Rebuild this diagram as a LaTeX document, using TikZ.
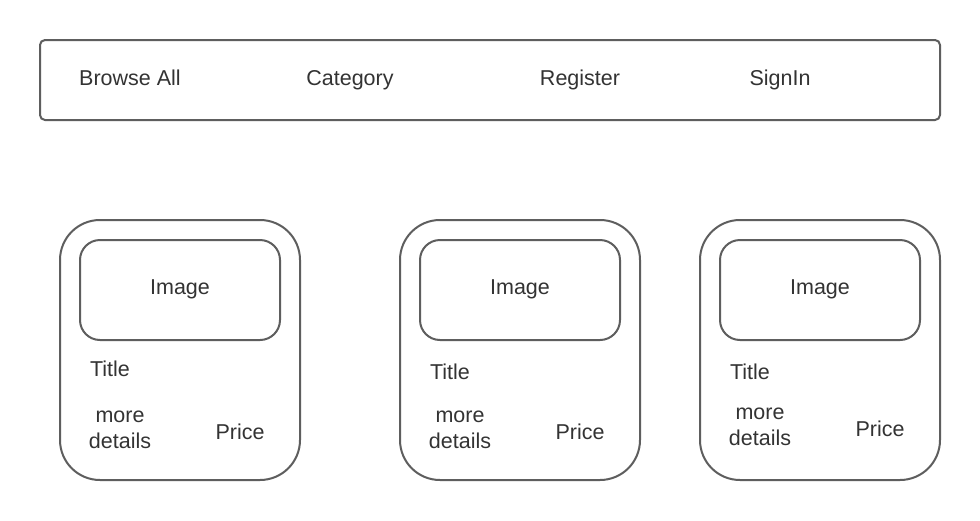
\documentclass[tikz,border=0pt]{standalone}
\usepackage{fontspec}
\setmainfont{Liberation Sans}
\begin{document}
\begin{tikzpicture}[x=1pt,y=-1pt,
  box/.style={draw=linegray,line width=2pt},
  lbl/.style={text=txtgray,font=\fontsize{21.5}{26}\selectfont,inner sep=0pt,anchor=base},
  lbl2/.style={text=txtgray,font=\fontsize{21.5}{26}\selectfont,inner sep=0pt,align=center,anchor=center}]
\definecolor{linegray}{HTML}{5E5E5E}
\definecolor{txtgray}{HTML}{333333}
\useasboundingbox[fill=white] (0,0) rectangle (980,520);
% nav bar
\draw[box,rounded corners=5pt] (40,40) rectangle (940,120);
\node[lbl] (browse) at (130,85) {Browse All};
\node[lbl] (cat) at (350,85) {Category};
\node[lbl] (reg) at (580,85) {Register};
\node[lbl] (sign) at (780,85) {SignIn};
% cards
\foreach \cx/\ty/\my/\py [count=\i] in {60/376/430/439, 400/379/430/439, 700/379/427/436}{
  \draw[box,rounded corners=40pt] (\cx,220) rectangle ++(240,260);
  \draw[box,rounded corners=20pt] (\cx+20,240) rectangle ++(200,100);
  \node[lbl] (img\i) at (\cx+120,294) {Image};
  \node[lbl] (title\i) at (\cx+50,\ty) {Title};
  \node[lbl2] (more\i) at (\cx+60,\my) {more\\details};
  \node[lbl] (price\i) at (\cx+180,\py) {Price};
}
\end{tikzpicture}
\end{document}
